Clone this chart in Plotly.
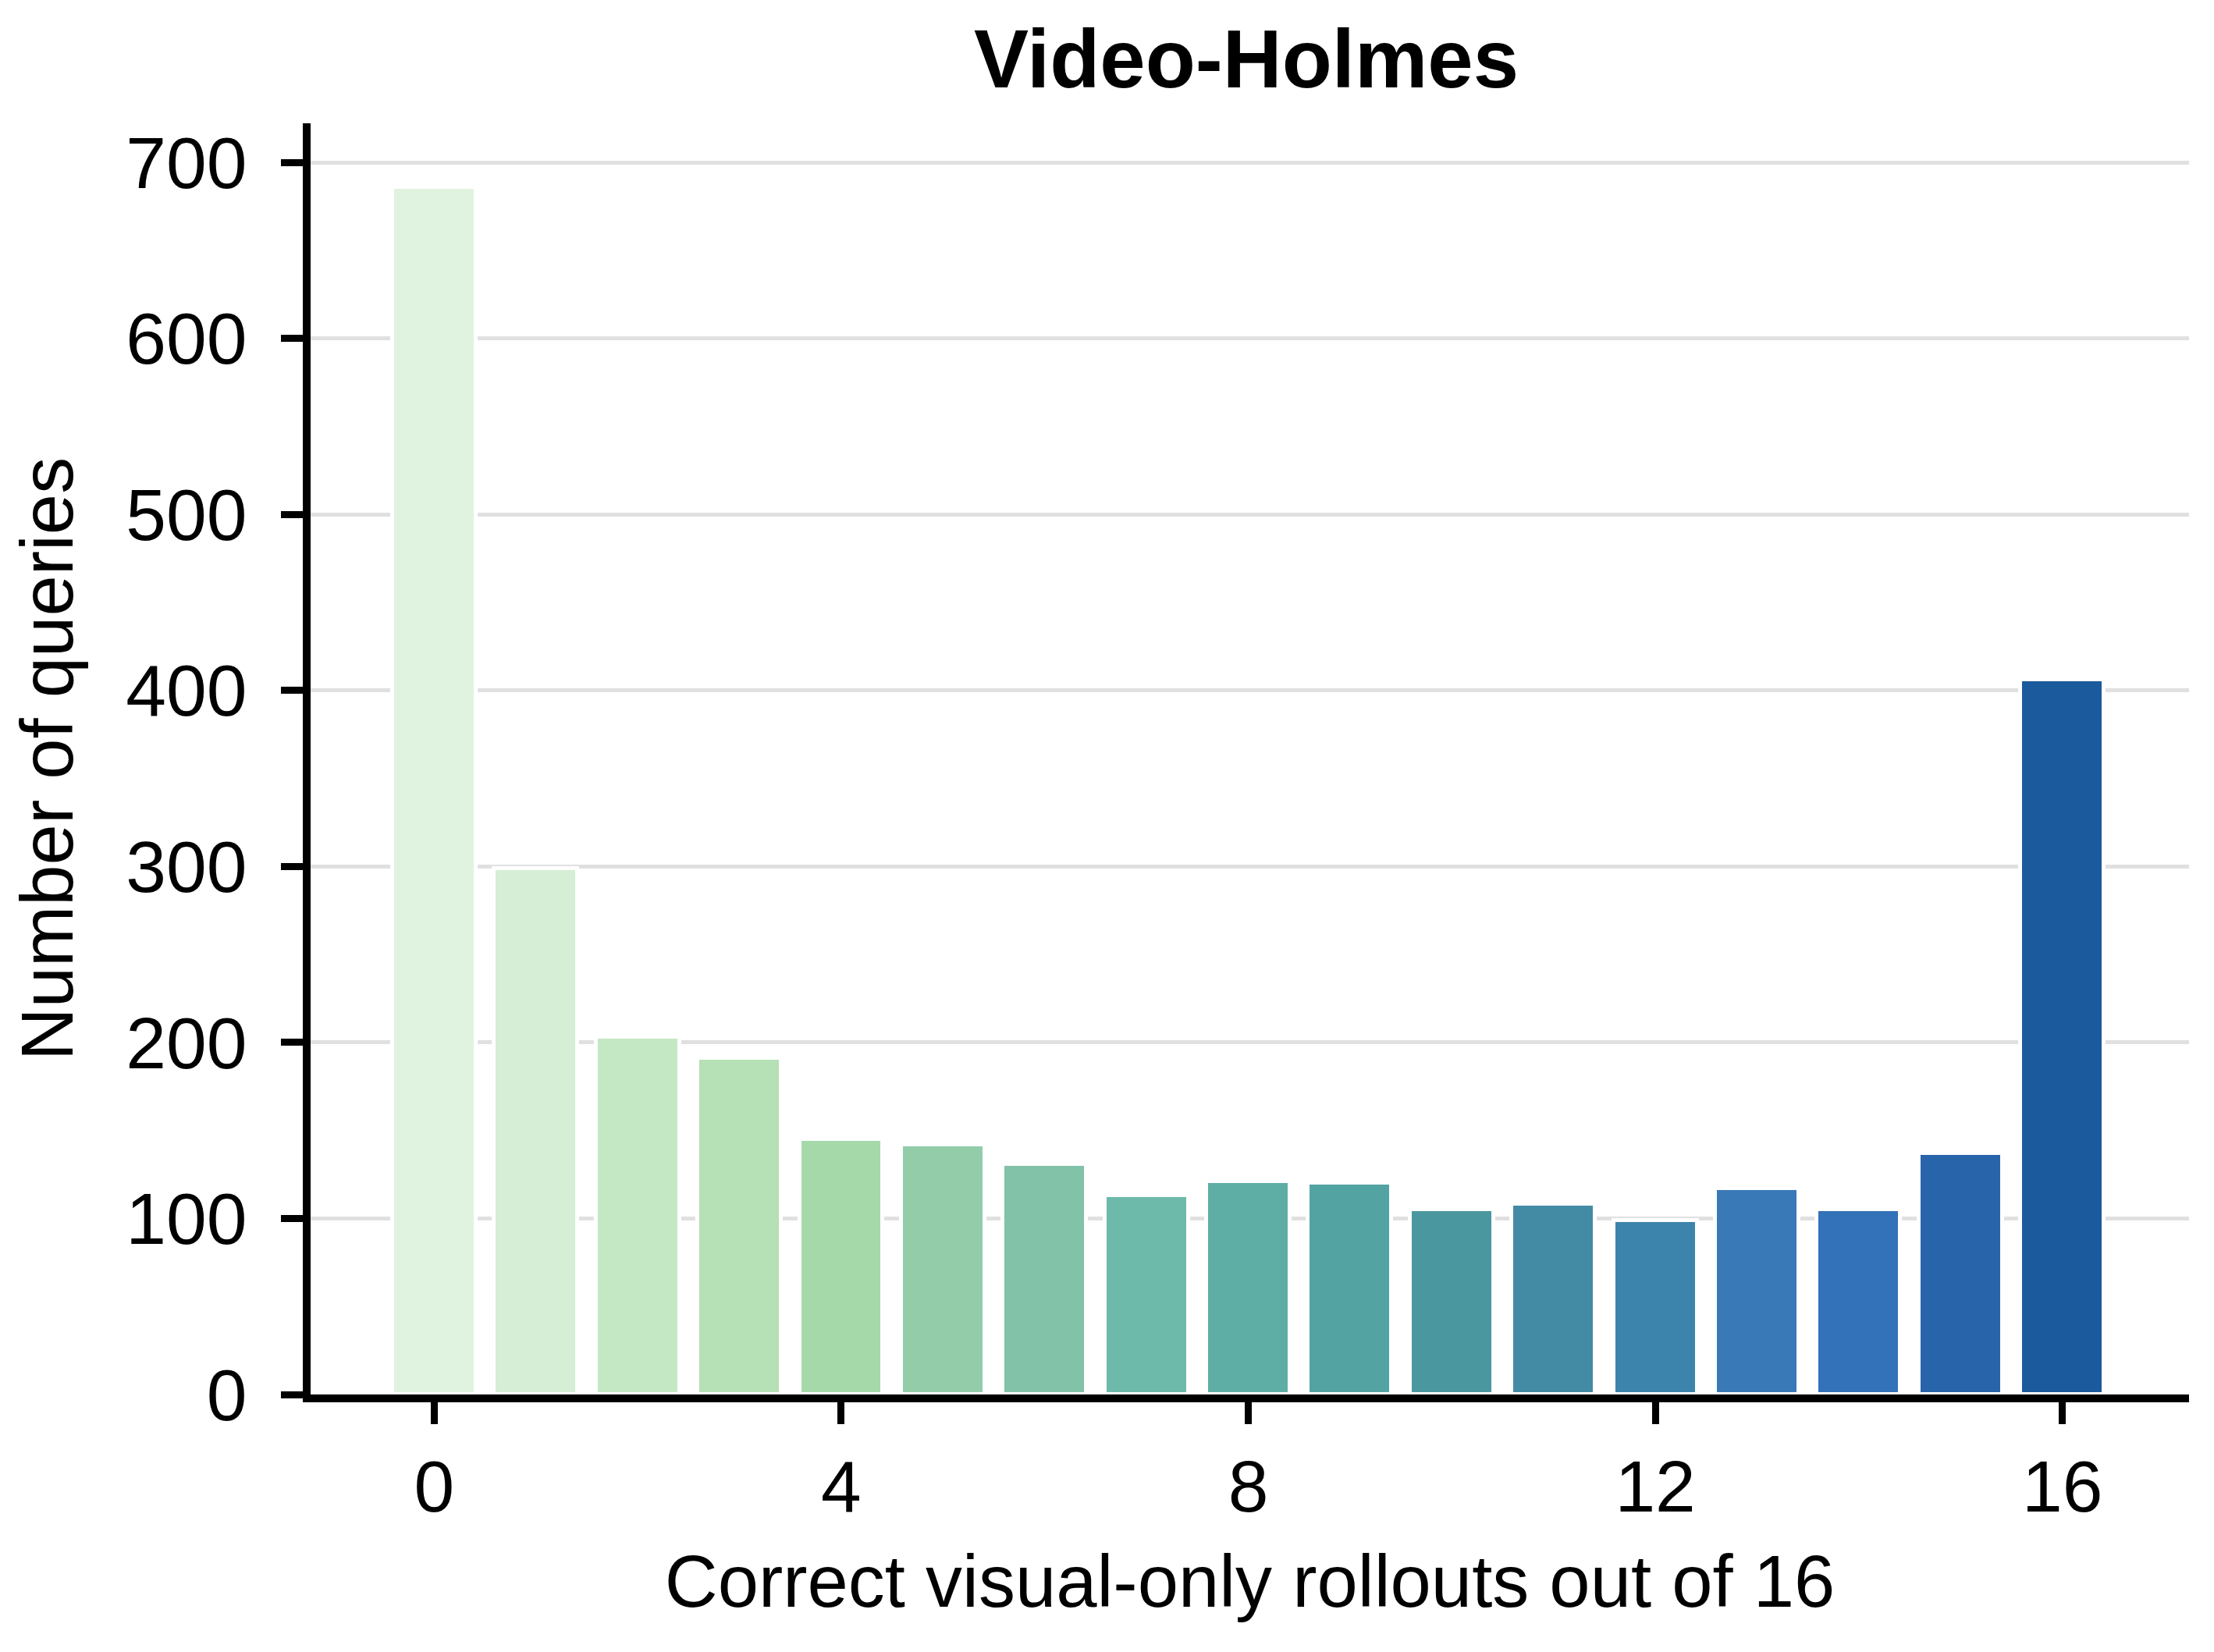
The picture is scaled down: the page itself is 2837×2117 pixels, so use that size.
import plotly.graph_objects as go

# Data
rollouts = list(range(17))
counts = [686, 299, 203, 191, 145, 142, 131, 113, 121, 120, 105, 108, 99, 117, 105, 137, 406]
bar_colors = ["#e0f3e0", "#d5eed5", "#c4e7c4", "#b6e0b6", "#a5d9a9", "#92cca9", "#82c2a8",
              "#6db9aa", "#5faea6", "#53a3a3", "#4a979f", "#438ba5", "#3d84ad", "#3a79b7",
              "#3371b8", "#2864aa", "#1b5a9c"]
x_ticks = [0, 4, 8, 12, 16]
y_ticks = [0, 100, 200, 300, 400, 500, 600, 700]

title_text = "Video-Holmes"
x_title = "Correct visual-only rollouts out of 16"
y_title = "Number of queries"

FONT = "Liberation Sans, Arial, sans-serif"
W, H = 2829, 2109  # page body adds an 8px margin

fig = go.Figure()
fig.add_trace(go.Bar(
    x=rollouts, y=counts, width=0.82,
    marker=dict(color=bar_colors, line=dict(color="white", width=5)),
    showlegend=False,
))

fig.update_layout(
    width=W, height=H,
    margin=dict(l=390, r=32, t=150, b=330, pad=0),
    paper_bgcolor="white", plot_bgcolor="white",
    font=dict(family=FONT, size=94, color="black"),
    title=dict(text="<b>" + title_text + "</b>", x=(1597 - 8) / W, xanchor="center",
               y=1 - 104 / H, yanchor="bottom",
               font=dict(family=FONT, size=105, color="black")),
    bargap=0,
)

fig.update_xaxes(
    range=[-1.215, 17.245], tickmode="array", tickvals=x_ticks,
    ticktext=[str(v) for v in x_ticks],
    showline=True, linecolor="black", linewidth=10,
    ticks="outside", ticklen=28, tickwidth=9, tickcolor="black",
    showgrid=False, zeroline=False,
    tickfont=dict(family=FONT, size=93, color="black"),
    title=dict(text=x_title, font=dict(family=FONT, size=94, color="black"), standoff=42),
)
fig.update_yaxes(
    range=[0, 722.3], tickmode="array", tickvals=y_ticks,
    ticktext=[str(v) for v in y_ticks],
    showline=True, linecolor="black", linewidth=10,
    ticks="outside", ticklen=28, tickwidth=9, tickcolor="black",
    showgrid=True, gridcolor="#e0e0e0", gridwidth=5, zeroline=False,
    ticklabelstandoff=25,
    tickfont=dict(family=FONT, size=93, color="black"),
    title=dict(text=y_title, font=dict(family=FONT, size=94, color="black"), standoff=50),
)

fig.write_html("out.html")
